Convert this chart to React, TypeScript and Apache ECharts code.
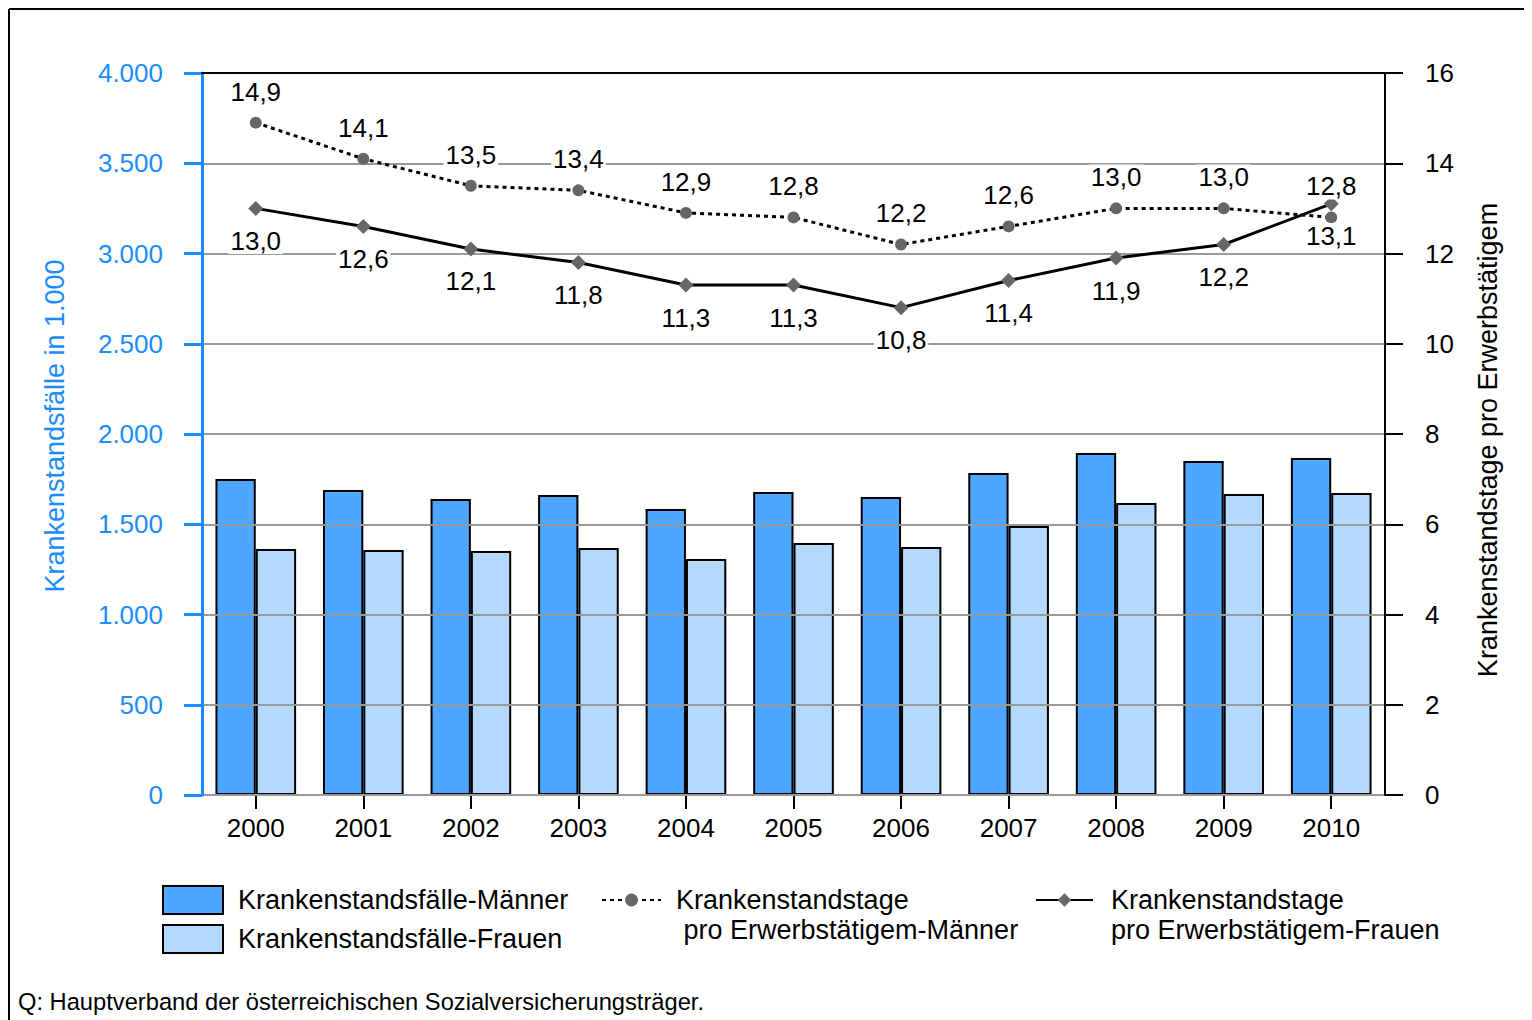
import React, { useEffect, useRef } from "react";
import * as echarts from "echarts";

const years = ["2000", "2001", "2002", "2003", "2004", "2005", "2006", "2007", "2008", "2009", "2010"];
const faelleMaenner = [1751, 1690, 1640, 1662, 1584, 1679, 1651, 1784, 1895, 1850, 1867];
const faelleFrauen = [1363, 1357, 1352, 1368, 1307, 1396, 1374, 1490, 1618, 1668, 1673];
const tageMaenner = [14.9, 14.1, 13.5, 13.4, 12.9, 12.8, 12.2, 12.6, 13.0, 13.0, 12.8];
const tageFrauen = [13.0, 12.6, 12.1, 11.8, 11.3, 11.3, 10.8, 11.4, 11.9, 12.2, 13.1];

const nameBarM = "Krankenstandsfälle-Männer";
const nameBarF = "Krankenstandsfälle-Frauen";
const nameLineM = "Krankenstandstage\n pro Erwerbstätigem-Männer";
const nameLineF = "Krankenstandstage\npro Erwerbstätigem-Frauen";

const FONT = "'Liberation Sans', Arial, sans-serif";
const BLUE = "#1A8CFF";

const fmtDe = (v: number) => String(v).replace(/\B(?=(\d{3})+(?!\d))/g, ".");
const fmtDec = (v: number) => v.toFixed(1).replace(".", ",");

export default function App() {
  const ref = useRef<HTMLDivElement>(null);
  useEffect(() => {
    document.body.style.overflow = "hidden";
    const chart = echarts.init(ref.current!, null, { renderer: "svg" });
    const labelBase = {
      show: true,
      fontSize: 26,
      fontFamily: FONT,
      color: "#000",
      backgroundColor: "#fff",
      padding: [0, 2],
      formatter: (p: any) => fmtDec(p.value),
    };
    chart.setOption({
      animation: false,
      textStyle: { fontFamily: FONT },
      grid: { left: 194, top: 65, right: 147, bottom: 225 },
      xAxis: [
        {
          type: "category",
          data: years,
          axisLine: { lineStyle: { color: "#000", width: 2 } },
          axisTick: { show: true, alignWithLabel: true, length: 14, lineStyle: { color: "#000", width: 2 } },
          axisLabel: { fontSize: 26, color: "#000", margin: 20, fontFamily: FONT },
          z: 7,
        },
        {
          type: "category",
          data: years,
          position: "top",
          axisLine: { show: true, onZero: false, lineStyle: { color: "#000", width: 2 } },
          axisTick: { show: false },
          axisLabel: { show: false },
          z: 9,
        },
      ],
      yAxis: [
        {
          type: "value",
          min: 0,
          max: 4000,
          interval: 500,
          name: "Krankenstandsfälle in 1.000",
          nameLocation: "middle",
          nameGap: 134,
          nameTextStyle: { fontSize: 27, color: BLUE, fontFamily: FONT, padding: [0, 0, 0, 16] },
          axisLine: { show: true, lineStyle: { color: BLUE, width: 3 } },
          axisTick: { show: true, length: 18, lineStyle: { color: BLUE, width: 3 } },
          axisLabel: { fontSize: 26, color: BLUE, margin: 39, fontFamily: FONT, formatter: (v: number) => fmtDe(v) },
          splitLine: { show: true, lineStyle: { color: "#999", width: 2 } },
          z: 8,
        },
        {
          type: "value",
          min: 0,
          max: 16,
          interval: 2,
          position: "right",
          name: "Krankenstandstage pro Erwerbstätigem",
          nameLocation: "middle",
          nameGap: 89,
          nameTextStyle: { fontSize: 27, color: "#000", fontFamily: FONT, padding: [0, 12, 0, 0] },
          axisLine: { show: true, lineStyle: { color: "#000", width: 2 } },
          axisTick: { show: true, length: 18, lineStyle: { color: "#000", width: 2 } },
          axisLabel: { fontSize: 26, color: "#000", margin: 40, fontFamily: FONT },
          splitLine: { show: false },
          z: 10,
        },
      ],
      legend: [
        {
          data: [nameBarM, nameBarF],
          orient: "vertical",
          left: 154,
          top: 877,
          padding: 0,
          itemWidth: 60,
          itemHeight: 28,
          itemGap: 9,
          icon: "rect",
          itemStyle: { borderColor: "#000", borderWidth: 2 },
          textStyle: { fontSize: 27, color: "#000", fontFamily: FONT, padding: [0, 0, 0, 10] },
        },
        {
          data: [nameLineM],
          left: 593,
          top: 847,
          padding: 0,
          itemWidth: 59,
          itemHeight: 16,
          formatter: (n: string) => "\n" + n,
          textStyle: { fontSize: 27, color: "#000", fontFamily: FONT, lineHeight: 30, padding: [0, 0, 0, 10] },
        },
        {
          data: [nameLineF],
          left: 1027,
          top: 847,
          padding: 0,
          itemWidth: 57,
          itemHeight: 17,
          formatter: (n: string) => "\n" + n,
          textStyle: { fontSize: 27, color: "#000", fontFamily: FONT, lineHeight: 30, padding: [0, 0, 0, 13] },
        },
      ],
      graphic: [
        { type: "line", shape: { x1: 1, y1: 1, x2: 1600, y2: 1 }, style: { stroke: "#000", lineWidth: 2 } },
        { type: "line", shape: { x1: 1, y1: 1, x2: 1, y2: 1100 }, style: { stroke: "#000", lineWidth: 2 } },
        {
          type: "text",
          left: 10,
          top: 982,
          style: {
            text: "Q: Hauptverband der österreichischen Sozialversicherungsträger.",
            fontSize: 23.7,
            fontFamily: FONT,
            fill: "#000",
          },
        },
      ],
      series: [
        {
          name: nameBarM,
          type: "bar",
          data: faelleMaenner,
          yAxisIndex: 0,
          barGap: "0%",
          barCategoryGap: "25%",
          itemStyle: { color: "#4DA6FF", borderColor: "#000", borderWidth: 2 },
          z: 2,
        },
        {
          name: nameBarF,
          type: "bar",
          data: faelleFrauen,
          yAxisIndex: 0,
          barGap: "0%",
          barCategoryGap: "25%",
          itemStyle: { color: "#B3D9FF", borderColor: "#000", borderWidth: 2 },
          z: 2,
        },
        {
          name: nameLineM,
          type: "line",
          data: tageMaenner,
          yAxisIndex: 1,
          symbol: "circle",
          symbolSize: 12,
          lineStyle: { color: "#000", width: 3, type: [4, 4] },
          itemStyle: { color: "#666" },
          label: { ...labelBase, position: "top", distance: 12 },
          z: 11,
        },
        {
          name: nameLineF,
          type: "line",
          data: tageFrauen,
          yAxisIndex: 1,
          symbol: "diamond",
          symbolSize: 15,
          lineStyle: { color: "#000", width: 3 },
          itemStyle: { color: "#666" },
          label: { ...labelBase, position: "bottom", distance: 12 },
          z: 11,
        },
      ],
    });
    return () => chart.dispose();
  }, []);
  return <div ref={ref} style={{ width: 1524, height: 1012 }} />;
}
